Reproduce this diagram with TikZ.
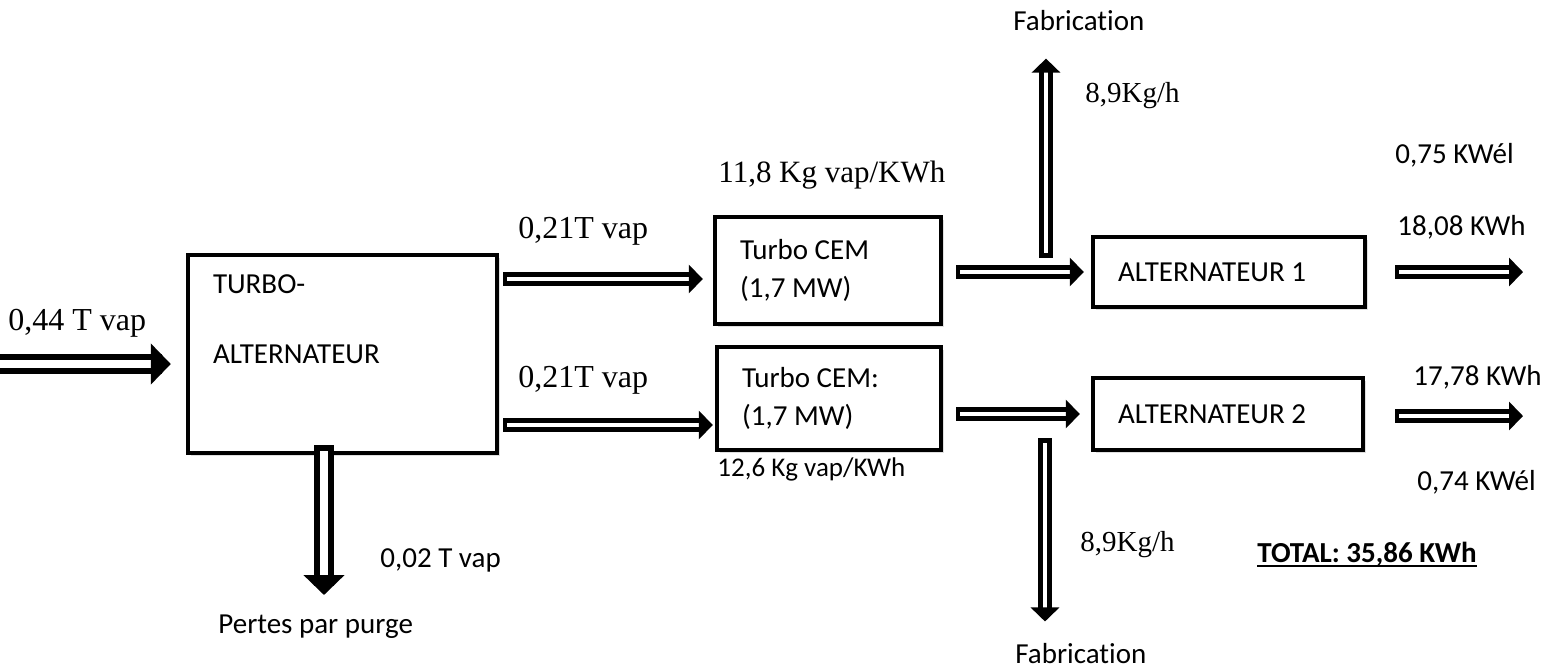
\documentclass[tikz,border=0pt]{standalone}
\usepackage{fontspec}
\setmainfont[Ligatures=NoCommon]{Carlito}
\newfontfamily\timesfont{Liberation Serif}
\usetikzlibrary{arrows.meta, shadows}
\newsavebox\totalbox

\begin{document}
\begin{tikzpicture}[
		x=0.5pt, y=-0.5pt,
		flow/.style={draw=black, double=white, line width=2.4pt, double distance=1.8pt, line cap=rect, -{Triangle[length=7pt, width=14pt]}},
		bigflow/.style={draw=black, double=white, line width=3pt, double distance=4pt, line cap=rect, -{Triangle[length=10pt, width=20pt]}},
		unit/.style={draw, line width=2.2pt, fill=white, align=left, inner xsep=12.5pt, inner ysep=0pt, font=\fontsize{14.5}{19}\selectfont, execute at begin node={\spaceskip=0pt\xspaceskip=0pt}, drop shadow={opacity=0.25, shadow xshift=1.5pt, shadow yshift=-1.5pt}},
		txt/.style={anchor=base west, inner sep=0pt, font=\fontsize{14.5}{17}\selectfont},
		num/.style={anchor=base west, inner sep=0pt, font=\timesfont\fontsize{16}{19}\selectfont}
		]
		\useasboundingbox (0,0) rectangle (1546,670);
		
		% --- Units ---
		\node[unit, text width=129.5pt, minimum height=99pt, font=\fontsize{14.5}{35}\selectfont] (ta) at (342.5,354) {TURBO-\\ALTERNATEUR\\\mbox{}};
		\node[unit, text width=88pt, minimum height=53.5pt] (t1) at (828,270.5) {Turbo CEM\\(1,7 MW)};
		\node[unit, text width=87pt, minimum height=51.5pt] (t2) at (829,398.5) {Turbo CEM:\\(1,7 MW)};
		\node[unit, text width=111pt, minimum height=35pt] (a1) at (1229,272) {ALTERNATEUR 1};
		\node[unit, text width=110pt, minimum height=36pt] (a2) at (1228,414) {ALTERNATEUR 2};
		
		% --- Quantities ---
		\node[num] (vin) at (8,330) {0,44 T vap};
		\node[num] (v1) at (518,238) {0,21T vap};
		\node[num] (v2) at (518,387) {0,21T vap};
		\node[num, font=\timesfont\fontsize{15.5}{19}\selectfont] (c1) at (718,182) {11,8 Kg vap/KWh};
		\node[txt, font=\fontsize{13.5}{16}\selectfont] (c2) at (717,476) {12,6 Kg vap/KWh};
		\node[num, font=\timesfont\fontsize{14.5}{17}\selectfont] (fup) at (1085,102) {8,9Kg/h};
		\node[num, font=\timesfont\fontsize{14.5}{17}\selectfont] (fdown) at (1080,551) {8,9Kg/h};
		\node[txt] (fabup) at (1013,30) {Fabrication};
		\node[txt] (fabdown) at (1015,663) {Fabrication};
		\node[txt] (p1) at (1395,163) {0,75 KWél};
		\node[txt] (e1) at (1397,235) {18,08 KWh};
		\node[txt] (e2) at (1413,385) {17,78 KWh};
		\node[txt] (p2) at (1417,490) {0,74 KWél};
		\node[txt] (vp) at (380,567) {0,02 T vap};
		\node[txt] (purge) at (218,633) {Pertes par purge};
		\node[txt] (total) at (1257,562) {\sbox\totalbox{\textbf{TOTAL: 35,86 KWh}}\rlap{\usebox\totalbox}\rule[-2.4pt]{\wd\totalbox}{1pt}};
		
		% --- Flows ---
		\coordinate (src) at (-20,364);
		\coordinate (row1) at (0,279);
		\coordinate (row2) at (0,425);
		\coordinate (brup) at (1046,251);
		\coordinate (brdown) at (1045,445);
		\coordinate (out1) at (1523,272);
		\coordinate (out2) at (1523,416);
		\coordinate (pg) at (324,595);
		
		\draw[bigflow, shorten >=7.5pt] (src) -- (ta.west |- src);
		\draw[flow, shorten <=5pt, shorten >=5pt] (ta.east |- row1) -- (t1.west |- row1);
		\draw[flow, shorten <=5pt, shorten >=1pt] (ta.east |- row2) -- (t2.west |- row2);
		\draw[flow, shorten <=9.5pt, shorten >=3.5pt] (t1.east |- a1.west) -- (a1.west);
		\draw[flow, shorten <=9.5pt, shorten >=5.5pt] (t2.east |- a2.west) -- (a2.west);
		\draw[flow, shorten <=17pt] (a1.east) -- (out1);
		\draw[flow, shorten <=18pt] (a2.east |- out2) -- (out2);
		\draw[flow, shorten >=14pt] (brup) -- (brup |- fabup.south);
		\draw[flow, shorten >=10.5pt] (brdown) -- (brdown |- fabdown.north);
		\draw[bigflow] (ta.south -| pg) -- (pg);
		
	\end{tikzpicture}
\end{document}
